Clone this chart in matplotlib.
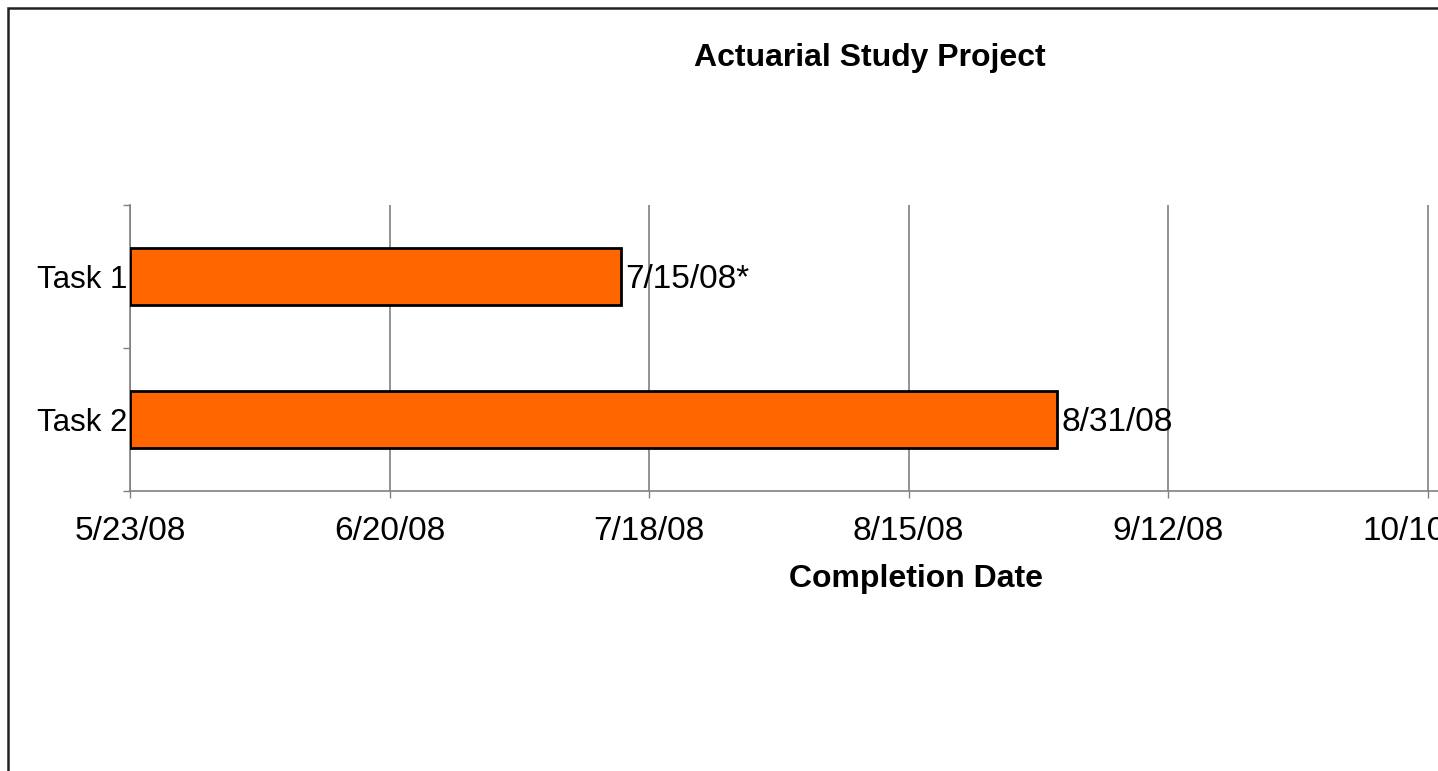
import matplotlib
matplotlib.use('Agg')
import matplotlib.pyplot as plt
import matplotlib.dates as mdates
from matplotlib.patches import Rectangle
import datetime as dt

plt.rcParams['font.family'] = ['Liberation Sans', 'DejaVu Sans']

tasks = ['Task 1', 'Task 2']
start_date = dt.date(2008, 5, 23)
end_dates = [dt.date(2008, 7, 15), dt.date(2008, 8, 31)]
end_labels = ['7/15/08*', '8/31/08']
tick_dates = [dt.date(2008, 5, 23), dt.date(2008, 6, 20), dt.date(2008, 7, 18),
              dt.date(2008, 8, 15), dt.date(2008, 9, 12), dt.date(2008, 10, 10)]
tick_labels = ['5/23/08', '6/20/08', '7/18/08', '8/15/08', '9/12/08', '10/10/08']

W, H = 1438, 771
fig = plt.figure(figsize=(W / 100, H / 100), dpi=100)

# axes run past the right edge of the picture, like the cropped original
ax_l, ax_r, ax_t, ax_b = 130, 1702, 205, 491
ax = fig.add_axes([ax_l / W, 1 - ax_b / H, (ax_r - ax_l) / W, (ax_b - ax_t) / H])

x0 = mdates.date2num(start_date)
ypos = [1, 0]
for y, e in zip(ypos, end_dates):
    ax.barh(y, mdates.date2num(e) - x0, left=x0, height=0.4,
            color='#FF6600', edgecolor='black', linewidth=2, zorder=3)
for y, e, lab in zip(ypos, end_dates, end_labels):
    ax.annotate(lab, (mdates.date2num(e), y), xytext=(3, -2), textcoords='offset points',
                va='center', ha='left', fontsize=24, zorder=4)

ax.set_xlim(x0, x0 + 169.6)
ax.set_ylim(-0.5, 1.5)

ax.set_xticks([mdates.date2num(d) for d in tick_dates])
ax.set_xticklabels(tick_labels, fontsize=24)
ax.tick_params(axis='x', direction='out', length=5, width=1, color='#808080', pad=13)
ax.xaxis.grid(True, color='#808080', linewidth=1.2, zorder=0)
ax.set_axisbelow(True)

ax.set_yticks([-0.5, 0.5, 1.5])
ax.set_yticklabels([])
ax.set_yticks(ypos, minor=True)
ax.set_yticklabels(tasks, minor=True, fontsize=22.5)
ax.tick_params(axis='y', which='major', direction='out', length=5, width=1, color='#808080')
ax.tick_params(axis='y', which='minor', length=0, pad=2)

for s in ['top', 'right']:
    ax.spines[s].set_visible(False)
for s in ['left', 'bottom']:
    ax.spines[s].set_color('#808080')
    ax.spines[s].set_linewidth(1.2)

ax.set_xlabel('Completion Date', fontsize=23, fontweight='bold', labelpad=12)

fig.text(870 / W, 1 - 58 / H, 'Actuarial Study Project', ha='center', va='center',
         fontsize=23, fontweight='bold')

# chart border, cut off at right and bottom
fig.patches.append(Rectangle((7.5 / W, -0.1), 1.2, 1 - 8.5 / H + 0.1,
                             transform=fig.transFigure, fill=False,
                             edgecolor='#222222', linewidth=1.8))

fig.savefig('out.png', dpi=100)
